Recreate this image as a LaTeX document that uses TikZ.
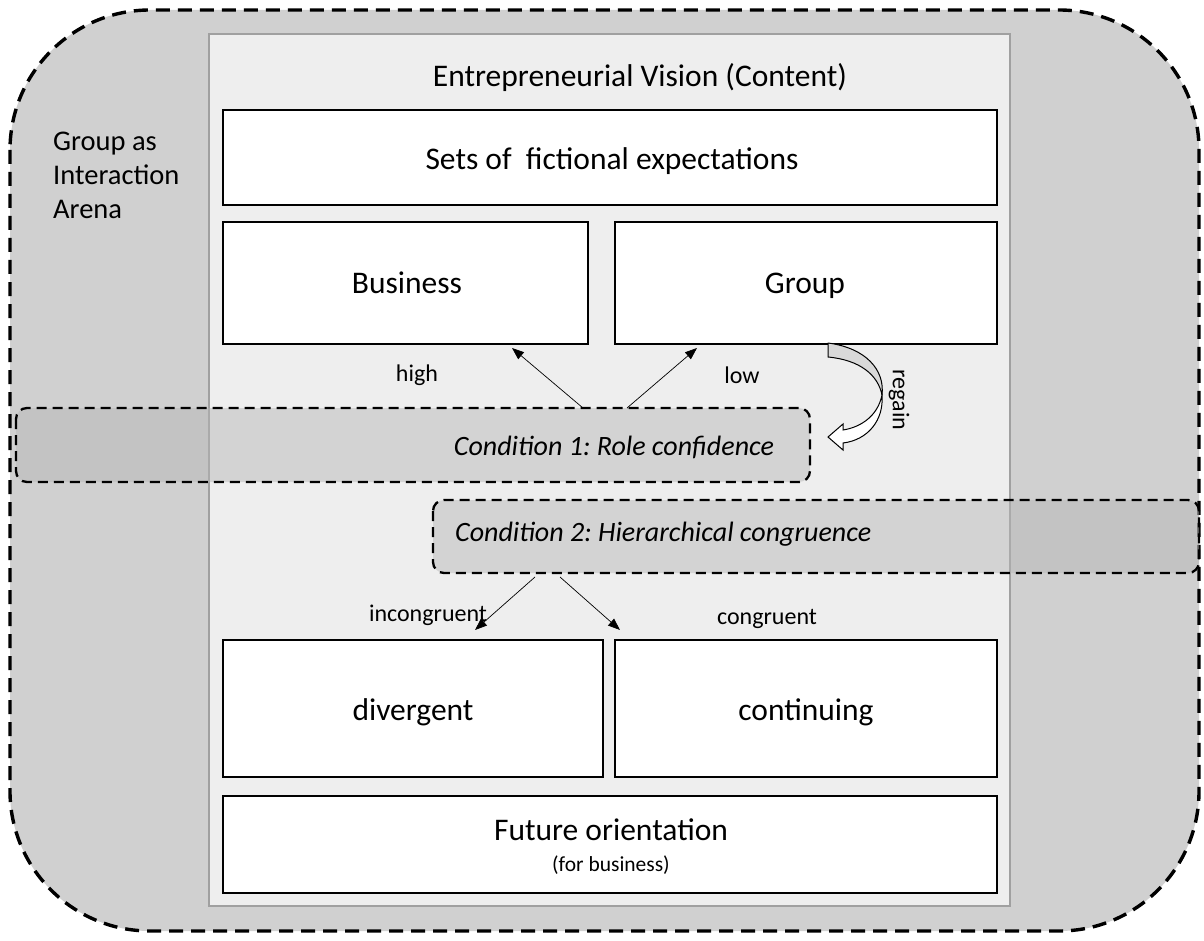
\documentclass[tikz,border=0pt]{standalone}
\usepackage{fontspec}
\setmainfont{Carlito}
\usetikzlibrary{arrows.meta}
\frenchspacing
\definecolor{outerfill}{RGB}{208,208,208}
\definecolor{panelfill}{RGB}{238,238,238}
\definecolor{panelline}{RGB}{160,160,160}
\definecolor{bandfill}{RGB}{182,182,182}
\tikzset{
  px/.style={x=1pt,y=-1pt},
  whitebox/.style={draw=black,fill=white,line width=1.2pt},
  band/.style={draw=black,dash pattern=on 10pt off 6pt,line width=2.3pt,fill=bandfill,fill opacity=0.47,draw opacity=1,rounded corners=11pt},
  conn/.style={-{Triangle[length=12pt,width=9pt]},line width=0.7pt},
  lbl/.style={font=\fontsize{24}{28}\selectfont,anchor=base,inner sep=0pt},
  big/.style={font=\fontsize{31.5}{36}\selectfont,anchor=base,inner sep=0pt},
  cond/.style={font=\fontsize{28}{32}\selectfont\itshape,anchor=base,inner sep=0pt},
}
\begin{document}
\begin{tikzpicture}[px]
\useasboundingbox (0,0) rectangle (1204,941);
% outer arena
\draw[fill=outerfill,dash pattern=on 14pt off 8pt,line width=3.4pt,rounded corners=140pt] (10,10) rectangle (1199,931);
\node[font=\fontsize{28.5}{34}\selectfont,align=left,anchor=base west,inner sep=0pt] (arena) at (53,219) {Group as\\Interaction\\Arena};
% panel
\draw[fill=panelfill,draw=panelline,line width=1.5pt] (209,34) rectangle (1010,906);
\node[big] (vision) at (640,87) {Entrepreneurial Vision (Content)};
% boxes
\draw[whitebox] (223,110) rectangle (997,205);
\node[big] (sets) at (612,170) {Sets of\ \ fictional expectations};
\draw[whitebox] (223,222) rectangle (588,344);
\node[big] (business) at (407,294) {Business};
\coordinate (busb) at (512,348);
\draw[whitebox] (615,222) rectangle (997,344);
\node[big] (group) at (805,294) {Group};
\coordinate (grpb) at (697,348);
% condition 1
\draw[band] (16,408) rectangle (810,482);
\node[cond] (c1) at (614,455) {Condition 1: Role confidence};
\coordinate (c1a) at (583,408);
\coordinate (c1b) at (627,408);
\draw[conn] (c1a) -- (busb);
\draw[conn] (c1b) -- (grpb);
\node[lbl] (high) at (417,381) {high};
\node[lbl] (low) at (742,383) {low};
% regain arrow
\draw[fill=gray!30,line width=1pt,line join=round] (828,343) .. controls (866,348) and (885,370) .. (882,395) .. controls (878,375) and (860,360) .. (828,357) -- cycle;
\draw[fill=white,line width=1pt,line join=miter] (882,395) .. controls (884,420) and (868,440) .. (843,443) -- (843,450) -- (828,437) -- (843,424) -- (843,430) .. controls (862,427) and (878,415) .. (882,395) -- cycle;
\node[font=\fontsize{24}{28}\selectfont,rotate=-90] (regain) at (899,400) {regain};
% condition 2
\draw[band] (433,500) rectangle (1199,573);
\node[cond,anchor=base west] (c2) at (455,541) {Condition 2: Hierarchical congruence};
\coordinate (c2a) at (535,577);
\coordinate (c2b) at (560,577);
\coordinate (divt) at (475,630);
\coordinate (cont) at (620,630);
\draw[conn] (c2a) -- (divt);
\draw[conn] (c2b) -- (cont);
\node[lbl] (incong) at (428,621) {incongruent};
\node[lbl] (cong) at (767,624) {congruent};
% bottom boxes
\draw[whitebox] (223,640) rectangle (603,777);
\node[big] (div) at (413,720) {divergent};
\draw[whitebox] (615,640) rectangle (997,777);
\node[big] (cont2) at (806,720) {continuing};
\draw[whitebox] (223,796) rectangle (997,893);
\node[big] (fut) at (611,840) {Future orientation};
\node[font=\fontsize{21.5}{26}\selectfont,anchor=base,inner sep=0pt] (forb) at (611,871) {(for business)};
\end{tikzpicture}
\end{document}
